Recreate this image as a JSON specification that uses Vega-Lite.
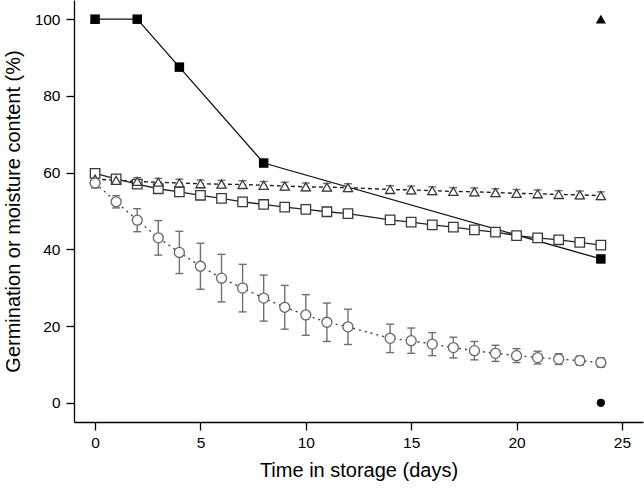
{
  "$schema": "https://vega.github.io/schema/vega-lite/v6.json",
  "width": 569,
  "height": 422,
  "autosize": {"type": "none"},
  "padding": {"left": 74, "top": 0, "right": 1, "bottom": 67},
  "background": "white",
  "config": {
    "view": {"stroke": null},
    "font": "Liberation Sans",
    "axis": {
      "grid": false,
      "domainColor": "#000",
      "domainWidth": 1.3,
      "tickColor": "#000",
      "tickWidth": 1.3,
      "tickSize": 8,
      "labelFontSize": 15.5,
      "labelColor": "#000",
      "titleFontSize": 20,
      "titleFontWeight": "normal",
      "titleColor": "#000"
    }
  },
  "data": {
    "values": [
      {"s": "gs", "d": 0, "v": 100},
      {"s": "gs", "d": 2, "v": 100},
      {"s": "gs", "d": 4, "v": 87.5},
      {"s": "gs", "d": 8, "v": 62.5},
      {"s": "gs", "d": 24, "v": 37.5},
      {"s": "bt", "d": 0, "v": 100},
      {"s": "bt", "d": 24, "v": 100},
      {"s": "bc", "d": 24, "v": 0},
      {"s": "ms", "d": 0, "v": 59.8},
      {"s": "ms", "d": 1, "v": 58.4},
      {"s": "ms", "d": 2, "v": 57.0},
      {"s": "ms", "d": 3, "v": 55.8},
      {"s": "ms", "d": 4, "v": 55.0},
      {"s": "ms", "d": 5, "v": 54.1},
      {"s": "ms", "d": 6, "v": 53.3},
      {"s": "ms", "d": 7, "v": 52.4},
      {"s": "ms", "d": 8, "v": 51.7},
      {"s": "ms", "d": 9, "v": 51.0},
      {"s": "ms", "d": 10, "v": 50.4},
      {"s": "ms", "d": 11, "v": 49.8},
      {"s": "ms", "d": 12, "v": 49.3},
      {"s": "ms", "d": 14, "v": 47.7},
      {"s": "ms", "d": 15, "v": 47.1},
      {"s": "ms", "d": 16, "v": 46.4},
      {"s": "ms", "d": 17, "v": 45.8},
      {"s": "ms", "d": 18, "v": 45.1},
      {"s": "ms", "d": 19, "v": 44.5},
      {"s": "ms", "d": 20, "v": 43.6},
      {"s": "ms", "d": 21, "v": 43.0},
      {"s": "ms", "d": 22, "v": 42.5},
      {"s": "ms", "d": 23, "v": 41.8},
      {"s": "ms", "d": 24, "v": 41.1},
      {"s": "mt", "d": 0, "v": 58.3, "lo": 57.3, "hi": 59.3},
      {"s": "mt", "d": 1, "v": 58.0, "lo": 57.0, "hi": 59.0},
      {"s": "mt", "d": 2, "v": 57.7, "lo": 56.7, "hi": 58.7},
      {"s": "mt", "d": 3, "v": 57.5, "lo": 56.5, "hi": 58.5},
      {"s": "mt", "d": 4, "v": 57.3, "lo": 56.3, "hi": 58.3},
      {"s": "mt", "d": 5, "v": 57.1, "lo": 56.1, "hi": 58.1},
      {"s": "mt", "d": 6, "v": 57.0, "lo": 56.0, "hi": 58.0},
      {"s": "mt", "d": 7, "v": 56.9, "lo": 55.9, "hi": 57.9},
      {"s": "mt", "d": 8, "v": 56.7, "lo": 55.7, "hi": 57.7},
      {"s": "mt", "d": 9, "v": 56.5, "lo": 55.5, "hi": 57.5},
      {"s": "mt", "d": 10, "v": 56.3, "lo": 55.3, "hi": 57.3},
      {"s": "mt", "d": 11, "v": 56.2, "lo": 55.2, "hi": 57.2},
      {"s": "mt", "d": 12, "v": 56.1, "lo": 55.1, "hi": 57.1},
      {"s": "mt", "d": 14, "v": 55.6, "lo": 54.6, "hi": 56.6},
      {"s": "mt", "d": 15, "v": 55.5, "lo": 54.5, "hi": 56.5},
      {"s": "mt", "d": 16, "v": 55.3, "lo": 54.3, "hi": 56.3},
      {"s": "mt", "d": 17, "v": 55.1, "lo": 54.1, "hi": 56.1},
      {"s": "mt", "d": 18, "v": 55.0, "lo": 54.0, "hi": 56.0},
      {"s": "mt", "d": 19, "v": 54.8, "lo": 53.8, "hi": 55.8},
      {"s": "mt", "d": 20, "v": 54.6, "lo": 53.6, "hi": 55.6},
      {"s": "mt", "d": 21, "v": 54.5, "lo": 53.5, "hi": 55.5},
      {"s": "mt", "d": 22, "v": 54.3, "lo": 53.3, "hi": 55.3},
      {"s": "mt", "d": 23, "v": 54.2, "lo": 53.2, "hi": 55.2},
      {"s": "mt", "d": 24, "v": 54.0, "lo": 53.0, "hi": 55.0},
      {"s": "mc", "d": 0, "v": 57.3, "lo": 56.0, "hi": 58.6},
      {"s": "mc", "d": 1, "v": 52.4, "lo": 50.8, "hi": 54.0},
      {"s": "mc", "d": 2, "v": 47.6, "lo": 44.6, "hi": 50.6},
      {"s": "mc", "d": 3, "v": 43.0, "lo": 38.5, "hi": 47.5},
      {"s": "mc", "d": 4, "v": 39.2, "lo": 33.7, "hi": 44.7},
      {"s": "mc", "d": 5, "v": 35.6, "lo": 29.6, "hi": 41.6},
      {"s": "mc", "d": 6, "v": 32.5, "lo": 26.3, "hi": 38.7},
      {"s": "mc", "d": 7, "v": 29.9, "lo": 23.7, "hi": 36.1},
      {"s": "mc", "d": 8, "v": 27.3, "lo": 21.3, "hi": 33.3},
      {"s": "mc", "d": 9, "v": 24.9, "lo": 19.2, "hi": 30.6},
      {"s": "mc", "d": 10, "v": 22.9, "lo": 17.6, "hi": 28.2},
      {"s": "mc", "d": 11, "v": 21.0, "lo": 16.0, "hi": 26.0},
      {"s": "mc", "d": 12, "v": 19.8, "lo": 15.2, "hi": 24.4},
      {"s": "mc", "d": 14, "v": 16.8, "lo": 13.1, "hi": 20.5},
      {"s": "mc", "d": 15, "v": 16.2, "lo": 12.9, "hi": 19.5},
      {"s": "mc", "d": 16, "v": 15.3, "lo": 12.3, "hi": 18.3},
      {"s": "mc", "d": 17, "v": 14.4, "lo": 11.7, "hi": 17.1},
      {"s": "mc", "d": 18, "v": 13.6, "lo": 11.2, "hi": 16.0},
      {"s": "mc", "d": 19, "v": 12.9, "lo": 10.8, "hi": 15.0},
      {"s": "mc", "d": 20, "v": 12.3, "lo": 10.5, "hi": 14.1},
      {"s": "mc", "d": 21, "v": 11.8, "lo": 10.15, "hi": 13.45},
      {"s": "mc", "d": 22, "v": 11.4, "lo": 10.0, "hi": 12.8},
      {"s": "mc", "d": 23, "v": 11.0, "lo": 9.8, "hi": 12.2},
      {"s": "mc", "d": 24, "v": 10.5, "lo": 9.3, "hi": 11.7}
    ]
  },
  "encoding": {
    "x": {
      "field": "d",
      "type": "quantitative",
      "scale": {"domain": [-1, 26], "nice": false, "zero": false},
      "axis": {"values": [0, 5, 10, 15, 20, 25], "title": "Time in storage (days)", "labelPadding": 5, "titlePadding": 10}
    },
    "y": {
      "field": "v",
      "type": "quantitative",
      "scale": {"domain": [-5, 105], "nice": false, "zero": false},
      "axis": {"values": [0, 20, 40, 60, 80, 100], "title": "Germination or moisture content (%)", "labelPadding": 6, "titlePadding": 11}
    }
  },
  "layer": [
    {
      "transform": [{"filter": "datum.s === 'mc'"}],
      "mark": {"type": "line", "color": "#444", "strokeWidth": 1.4, "strokeDash": [2, 4]}
    },
    {
      "transform": [{"filter": "datum.s === 'mt'"}],
      "mark": {"type": "line", "color": "#222", "strokeWidth": 1.4, "strokeDash": [4, 3]}
    },
    {
      "transform": [{"filter": "datum.s === 'ms'"}],
      "mark": {"type": "line", "color": "#222", "strokeWidth": 1.3}
    },
    {
      "transform": [{"filter": "datum.s === 'gs'"}],
      "mark": {"type": "line", "color": "#111", "strokeWidth": 1.3}
    },
    {
      "transform": [{"filter": "datum.s === 'mc' || datum.s === 'mt'"}],
      "mark": {"type": "rule", "color": "#707070", "strokeWidth": 1.4, "opacity": 1},
      "encoding": {"y": {"field": "lo", "type": "quantitative"}, "y2": {"field": "hi"}}
    },
    {
      "transform": [{"filter": "datum.s === 'mc' || datum.s === 'mt'"}],
      "mark": {"type": "tick", "orient": "horizontal", "color": "#707070", "size": 8, "thickness": 1.4, "opacity": 1},
      "encoding": {"y": {"field": "lo", "type": "quantitative"}}
    },
    {
      "transform": [{"filter": "datum.s === 'mc' || datum.s === 'mt'"}],
      "mark": {"type": "tick", "orient": "horizontal", "color": "#707070", "size": 8, "thickness": 1.4, "opacity": 1},
      "encoding": {"y": {"field": "hi", "type": "quantitative"}}
    },
    {
      "transform": [{"filter": "datum.s === 'ms'"}],
      "mark": {"type": "point", "shape": "square", "size": 90, "filled": true, "fill": "white", "fillOpacity": 1, "opacity": 1, "stroke": "#3a3a3a", "strokeWidth": 1.3}
    },
    {
      "transform": [{"filter": "datum.s === 'mt'"}],
      "mark": {"type": "point", "shape": "triangle-up", "size": 85, "filled": true, "fill": "white", "fillOpacity": 1, "opacity": 1, "stroke": "#3a3a3a", "strokeWidth": 1.3}
    },
    {
      "transform": [{"filter": "datum.s === 'mc'"}],
      "mark": {"type": "point", "shape": "circle", "size": 100, "filled": true, "fill": "white", "fillOpacity": 1, "opacity": 1, "stroke": "#666", "strokeWidth": 1.3}
    },
    {
      "transform": [{"filter": "datum.s === 'bt'"}],
      "mark": {"type": "point", "shape": "triangle-up", "size": 105, "filled": true, "color": "#000", "opacity": 1}
    },
    {
      "transform": [{"filter": "datum.s === 'bc'"}],
      "mark": {"type": "point", "shape": "circle", "size": 70, "filled": true, "color": "#000", "opacity": 1}
    },
    {
      "transform": [{"filter": "datum.s === 'gs'"}],
      "mark": {"type": "point", "shape": "square", "size": 90, "filled": true, "color": "#000", "opacity": 1}
    }
  ]
}
